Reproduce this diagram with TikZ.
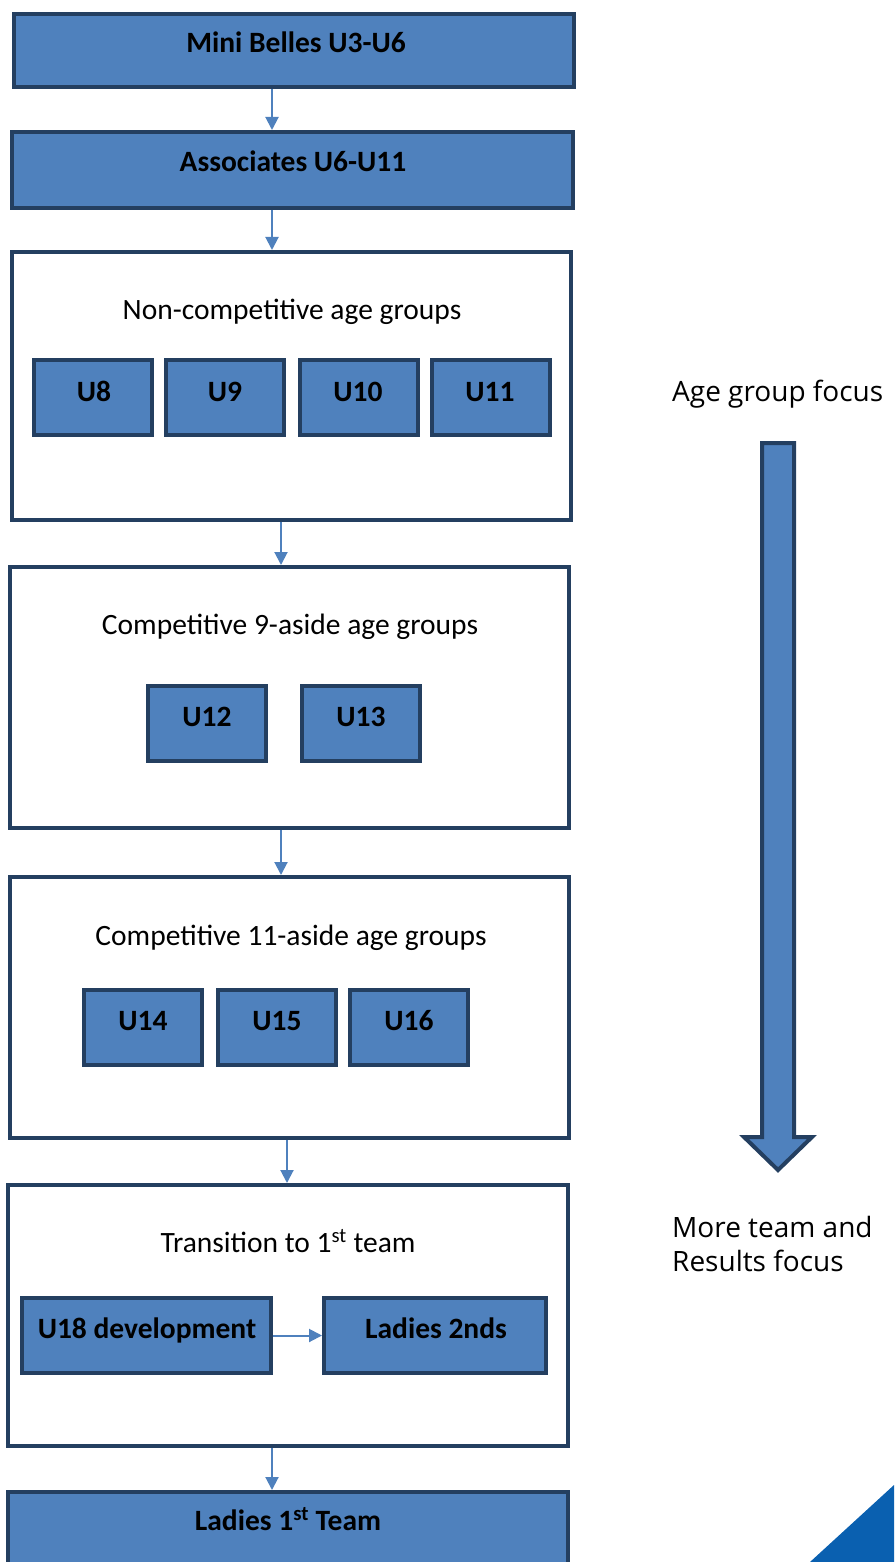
\documentclass[tikz,border=0pt]{standalone}
\usepackage{fontspec}
\setmainfont{Carlito}
\newfontfamily\sidefont{Open Sans}
\usetikzlibrary{arrows.meta}
\definecolor{boxblue}{HTML}{4F81BD}
\definecolor{navy}{HTML}{243F60}
\definecolor{logoblue}{HTML}{0A60B0}
\begin{document}
\begin{tikzpicture}[x=1pt,y=-1pt,
  bluebox/.style={draw=navy,line width=4pt,fill=boxblue,inner sep=0pt},
  groupbox/.style={draw=navy,line width=4pt,fill=white,inner sep=0pt},
  cell/.style={bluebox,minimum width=118pt,minimum height=75pt},
  boxtext/.style={font=\fontsize{29.5}{35}\selectfont\bfseries,inner sep=0pt,anchor=base},
  headtext/.style={font=\fontsize{29.5}{35}\selectfont,inner sep=0pt,anchor=base},
  sidetext/.style={font=\sidefont\fontsize{28}{34}\selectfont,inner sep=0pt,anchor=base west,align=left},
  flow/.style={draw=boxblue,line width=2pt,-{Triangle[length=13pt,width=13pt]}},
]
\useasboundingbox (0,0) rectangle (894,1562);
\clip (0,0) rectangle (894,1562);

% main column boxes
\node[bluebox,minimum width=560pt,minimum height=73pt] (mini) at (294,50.5) {};
\node[boxtext] (miniT) at (296,53) {Mini Belles U3-U6};

\node[bluebox,minimum width=561pt,minimum height=76pt] (assoc) at (292.5,170) {};
\node[boxtext] (assocT) at (293,172) {Associates U6-U11};

\node[groupbox,minimum width=559pt,minimum height=268pt] (noncomp) at (291.5,386) {};
\node[headtext] (noncompT) at (292,319) {Non-competitive age groups};
\node[cell] (u8) at (93,397.5) {};
\node[cell] (u9) at (225,397.5) {};
\node[cell] (u10) at (358.5,397.5) {};
\node[cell] (u11) at (490.5,397.5) {};
\node[boxtext] (u8T) at (94,401) {U8};
\node[boxtext] (u9T) at (225,401) {U9};
\node[boxtext] (u10T) at (358,401) {U10};
\node[boxtext] (u11T) at (490,401) {U11};

\node[groupbox,minimum width=559pt,minimum height=261pt] (comp9) at (289.5,697.5) {};
\node[headtext] (comp9T) at (290,634) {Competitive 9-aside age groups};
\node[cell] (u12) at (207,723.5) {};
\node[cell] (u13) at (361,723.5) {};
\node[boxtext] (u12T) at (207,726) {U12};
\node[boxtext] (u13T) at (361,726) {U13};

\node[groupbox,minimum width=559pt,minimum height=261pt] (comp11) at (289.5,1007.5) {};
\node[headtext] (comp11T) at (291,945) {Competitive 11-aside age groups};
\node[cell] (u14) at (143,1027.5) {};
\node[cell] (u15) at (277,1027.5) {};
\node[cell] (u16) at (409,1027.5) {};
\node[boxtext] (u14T) at (143,1030) {U14};
\node[boxtext] (u15T) at (277,1030) {U15};
\node[boxtext] (u16T) at (409,1030) {U16};

\node[groupbox,minimum width=560pt,minimum height=261pt] (trans) at (288,1315.5) {};
\node[headtext] (transT) at (288,1252) {Transition to 1\textsuperscript{st} team};
\node[bluebox,minimum width=249pt,minimum height=75pt] (u18) at (146.5,1335.5) {};
\node[bluebox,minimum width=222pt,minimum height=75pt] (l2) at (435,1335.5) {};
\node[boxtext] (u18T) at (147,1338) {U18 development};
\node[boxtext] (l2T) at (436,1338) {Ladies 2nds};

\node[bluebox,minimum width=560pt,minimum height=108pt] (first) at (288,1546) {};
\node[boxtext] (firstT) at (288,1530) {Ladies 1\textsuperscript{st} Team};

% connectors
\coordinate (xa) at (272,0);
\coordinate (xb) at (281,0);
\coordinate (xc) at (287,0);
\draw[flow] (xa |- mini.south) -- (xa |- assoc.north);
\draw[flow] (xa |- assoc.south) -- (xa |- noncomp.north);
\draw[flow] (xb |- noncomp.south) -- (xb |- comp9.north);
\draw[flow] (xb |- comp9.south) -- (xb |- comp11.north);
\draw[flow] (xc |- comp11.south) -- (xc |- trans.north);
\draw[flow] (xa |- trans.south) -- (xa |- first.north);
\draw[flow] (u18.east) -- (l2.west);

% right side
\node[sidetext] (agefocus) at (672,401) {Age group focus};
\draw[navy,line width=4pt,fill=boxblue,line join=miter]
  (762,443) -- (794,443) -- (794,1137) -- (812,1137) -- (778,1170)
  -- (744,1137) -- (762,1137) -- cycle;
\node[sidetext] (teamfocus) at (672,1271) {More team and\\Results focus};

% logo corner
\fill[logoblue] (810,1562) -- (894,1485) -- (894,1562) -- cycle;
\end{tikzpicture}
\end{document}
